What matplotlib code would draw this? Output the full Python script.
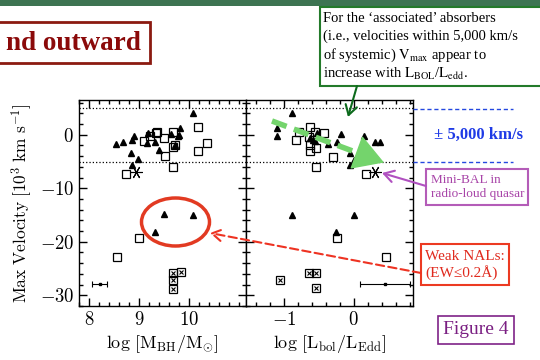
import matplotlib
matplotlib.use("Agg")
import matplotlib.pyplot as plt
from matplotlib.ticker import MultipleLocator, FixedLocator, FuncFormatter
from matplotlib.patches import Rectangle, Ellipse, FancyArrowPatch
from matplotlib.lines import Line2D

plt.rcParams['mathtext.fontset'] = 'cm'
plt.rcParams['font.family'] = ['Liberation Serif', 'DejaVu Serif']

## left panel: log M_BH
mbh_tri = [8.54, 8.68, 8.83, 8.87, 8.90, 8.86, 8.97, 9.15, 9.17, 9.31, 9.39,
           9.63, 9.72, 9.79, 9.82, 9.80, 10.09, 9.49, 10.09, 9.31]
vel_tri_l = [-1.7, -1.4, -3.4, -0.9, -0.3, -5.7, -4.6, -1.6, 0.3, -1.4, -2.8,
             0.1, -1.9, -0.2, 1.2, 0.0, 4.0, -14.8, -14.9, -18.1]
mbh_sq = [9.09, 9.21, 9.37, 9.35, 9.49, 9.69, 9.69, 9.71, 9.52, 9.68, 10.19,
          10.37, 10.19, 8.73, 8.99, 8.55]
vel_sq_l = [-1.1, -0.3, 0.6, 0.3, -0.6, 0.6, -2.3, -2.0, -4.0, -6.1, 1.5,
            -1.5, -3.0, -7.4, -19.3, -22.9]
mbh_weak = [9.69, 9.83, 9.69, 9.69]
vel_weak_l = [-25.9, -25.7, -27.1, -28.8]
mbh_minibal = [8.94]
vel_minibal_l = [-7.0]
mbh_err = [8.21]
vel_err_l = [-27.8]
mbh_xerr = [0.15]
mbh_ticks = [8, 9, 10]

## right panel: log Lbol/LEdd
edd_tri = [-0.88, -1.10, -1.10, -0.52, -0.37, -0.24, -0.18, -0.05, 0.00, -0.05,
           0.15, 0.31, 0.38, -0.58, -0.63, -0.55, -0.88, 0.00, -0.25]
vel_tri_r = [4.0, 1.2, -0.2, 0.3, -1.7, -1.4, 0.1, -3.4, -4.7, -5.7,
             -0.2, -1.4, -1.4, -1.0, -0.6, -1.2, -15.0, -14.9, -18.1]
edd_sq = [-0.62, -0.79, -0.82, -0.55, -0.43, -0.64, -0.63, -0.54, -0.62, -0.30,
          -0.54, 0.18, -0.24, 0.46]
vel_sq_r = [1.5, 0.6, -1.0, 0.6, 0.3, -0.5, -2.0, -2.5, -3.1, -4.1,
            -6.1, -7.4, -19.3, -22.9]
edd_weak = [-1.05, -0.64, -0.54, -0.54]
vel_weak_r = [-27.2, -25.8, -25.9, -28.7]
edd_minibal = [0.30]
vel_minibal_r = [-7.0]
edd_err = [0.45]
vel_err_r = [-27.8]
edd_xerr = [0.36]
edd_ticks = [-1, 0]

W, H = 540.0, 360.0


def fx(px):
    return px / W


def fy(py):
    return 1 - py / H


fig = plt.figure(figsize=(5.4, 3.6), dpi=100)

ax1 = fig.add_axes([fx(79), fy(306), 166.5 / W, 206 / H])
ax2 = fig.add_axes([fx(245.5), fy(306), 167.5 / W, 206 / H])

int_fmt = FuncFormatter(lambda v, p: r'$%d$' % round(v))


def draw_panel(ax, xt, yt, xs, ys, xw, yw, xm, ym, xe, ye, xerr, xticks):
    ax.plot(xt, yt, '^', color='k', ms=4.5, ls='none')
    ax.plot(xs, ys, 's', mfc='none', mec='k', ms=5.5, mew=0.9, ls='none')
    ax.plot(xw, yw, 's', mfc='none', mec='k', ms=5.5, mew=0.9, ls='none')
    ax.plot(xw, yw, 'x', color='k', ms=3.5, mew=0.8, ls='none')
    ax.plot(xm, ym, marker=(6, 2, 90), color='k', ms=9, mew=0.8, ls='none')
    ax.errorbar(xe, ye, xerr=xerr, fmt='s', color='k', ms=2, capsize=2,
                elinewidth=0.8, capthick=0.8)
    ax.axhline(5, ls=':', color='k', lw=0.9)
    ax.axhline(-5, ls=':', color='k', lw=0.9)
    ax.set_ylim(-32, 6.5)
    ax.yaxis.set_major_locator(MultipleLocator(10))
    ax.yaxis.set_minor_locator(MultipleLocator(2))
    ax.xaxis.set_major_locator(FixedLocator(xticks))
    ax.xaxis.set_minor_locator(MultipleLocator(0.2))
    ax.tick_params(which='both', direction='in', top=True, right=True,
                   labelsize=13.5, width=1.0)
    ax.tick_params(which='major', length=6)
    ax.tick_params(which='minor', length=3)
    ax.xaxis.set_major_formatter(int_fmt)
    ax.yaxis.set_major_formatter(int_fmt)
    for s in ax.spines.values():
        s.set_linewidth(1.0)


draw_panel(ax1, mbh_tri, vel_tri_l, mbh_sq, vel_sq_l, mbh_weak, vel_weak_l,
           mbh_minibal, vel_minibal_l, mbh_err, vel_err_l, mbh_xerr, mbh_ticks)
draw_panel(ax2, edd_tri, vel_tri_r, edd_sq, vel_sq_r, edd_weak, vel_weak_r,
           edd_minibal, vel_minibal_r, edd_err, vel_err_r, edd_xerr, edd_ticks)
ax1.set_xlim(7.8, 11.13)
ax2.set_xlim(-1.55, 0.85)
ax2.tick_params(labelleft=False)

ax1.set_ylabel(r'$\mathrm{Max\ Velocity\ [10^3\ km\ s^{-1}]}$', fontsize=12.5,
               labelpad=3)
ax1.set_xlabel(r'$\mathrm{log\ [M_{BH}/M_{\odot}]}$', fontsize=13, labelpad=3)
ax2.set_xlabel(r'$\mathrm{log\ [L_{bol}/L_{Edd}]}$', fontsize=13, labelpad=3)

## slide decorations
fig.patches.append(Rectangle((0, fy(6)), 1, 6 / H, transform=fig.transFigure,
                             facecolor='#3d7452', edgecolor='none'))

fig.patches.append(Rectangle((fx(-5), fy(63)), 155 / W, 41 / H,
                             transform=fig.transFigure, facecolor='white',
                             edgecolor='#8b1a10', lw=2))
fig.text(fx(141), fy(43), 'nd outward', ha='right', va='center', fontsize=19.5,
         fontweight='bold', color='#8b0a0a')

fig.patches.append(Rectangle((fx(320), fy(86)), 300 / W, 79 / H,
                             transform=fig.transFigure, facecolor='white',
                             edgecolor='#237a2a', lw=1.5))
box_lines = [u'For the \u2018associated\u2019 absorbers',
             '(i.e., velocities within 5,000 km/s',
             r'of systemic) $\mathrm{V}_{\mathrm{max}}$ appear to',
             r'increase with $\mathrm{L}_{\mathrm{BOL}}$/$\mathrm{L}_{\mathrm{edd}}$.']
for i, line in enumerate(box_lines):
    fig.text(fx(323), fy(18 + 18.5 * i), line, ha='left', va='center',
             fontsize=10.5, color='black', math_fontfamily='stix')

## blue +-5000 marks
for yy in [109, 162]:
    fig.lines.append(Line2D([fx(413), fx(513)], [fy(yy), fy(yy)],
                            transform=fig.transFigure, color='#2448e0',
                            lw=1.0, ls=(0, (3, 2))))
fig.text(fx(478), fy(135), u'\u00b1 5,000 km/s', ha='center', va='center',
         fontsize=12, fontweight='bold', color='#1f3be6')

## mini-BAL box
fig.patches.append(Rectangle((fx(426), fy(205)), 102 / W, 36 / H,
                             transform=fig.transFigure, facecolor='white',
                             edgecolor='#b45cb8', lw=1.5))
fig.text(fx(431), fy(187), 'Mini-BAL in\nradio-loud quasar', ha='left',
         va='center', fontsize=9.5, color='#a844a8', linespacing=1.2)

## weak NALs box
fig.patches.append(Rectangle((fx(421), fy(285)), 88 / W, 41 / H,
                             transform=fig.transFigure, facecolor='white',
                             edgecolor='#ec3a22', lw=1.5))
fig.text(fx(425), fy(265), u'Weak NALs:\n(EW\u22640.2\u00c5)', ha='left',
         va='center', fontsize=11, color='#e02a1e', linespacing=1.15)

## figure 4 box
fig.patches.append(Rectangle((fx(438), fy(344)), 76 / W, 28 / H,
                             transform=fig.transFigure, facecolor='white',
                             edgecolor='#7f2288', lw=1.2))
fig.text(fx(476), fy(330), 'Figure 4', ha='center', va='center',
         fontsize=14, color='#7a1f82')

## ellipse round the high-velocity triangles
fig.patches.append(Ellipse((fx(175.5), fy(222)), 68 / W, 48 / H,
                           transform=fig.transFigure, facecolor='none',
                           edgecolor='#e23a22', lw=2.5))

## thick green trend arrow: dashed shaft + solid head
fig.lines.append(Line2D([fx(272), fx(362)], [fy(121), fy(154.5)],
                        transform=fig.transFigure, color='#74d46c', lw=4.0,
                        ls=(0, (2.8, 1.4)), solid_capstyle='butt'))
fig.patches.append(FancyArrowPatch((fx(358), fy(153)), (fx(384), fy(162.5)),
                                   transform=fig.transFigure,
                                   arrowstyle='-|>,head_length=1.1,head_width=0.65',
                                   mutation_scale=18, color='#74d46c', lw=1,
                                   shrinkA=0, shrinkB=0))

## thin arrows
arrows = [
    ((fx(421), fy(273)), (fx(210), fy(233)), '#ee3322', (0, (4, 2))),
    ((fx(357), fy(86)), (fx(348), fy(117)), '#0c6a1c', '-'),
    ((fx(426), fy(186)), (fx(382), fy(173)), '#b050c0', '-'),
]
for start, end, col, ls in arrows:
    fig.patches.append(FancyArrowPatch(start, end, transform=fig.transFigure,
                                       arrowstyle='->,head_length=0.5,head_width=0.3',
                                       mutation_scale=14, color=col, lw=1.5,
                                       linestyle=ls, shrinkA=0, shrinkB=0))

plt.savefig('out.png', dpi=100)
